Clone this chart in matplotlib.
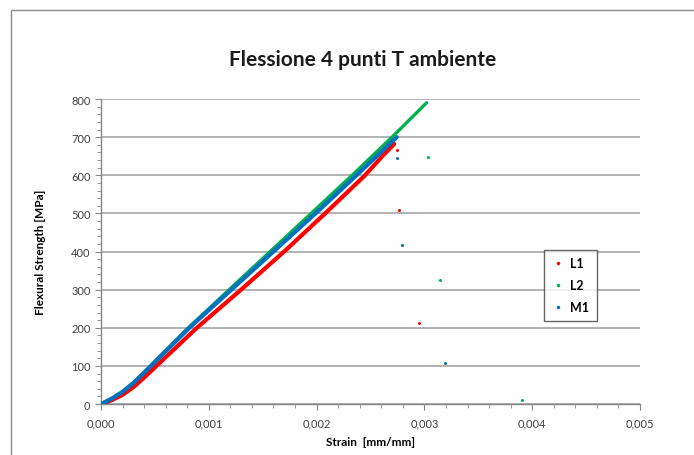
import matplotlib.pyplot as plt
from matplotlib.lines import Line2D
from matplotlib.patches import Rectangle
from matplotlib.ticker import MultipleLocator, FuncFormatter

# curve points (strain [mm/mm], stress [MPa])
l1_strain = [0, 0.0001, 0.0002, 0.0003, 0.0004, 0.0005, 0.00089, 0.00130, 0.00170, 0.00208, 0.00245, 0.00261, 0.00272]
l1_stress = [0, 10, 24, 44, 69, 96, 200, 300, 400, 500, 600, 650, 682]
l2_strain = [0, 0.0001, 0.0002, 0.0003, 0.0004, 0.00081, 0.00119, 0.00157, 0.00195, 0.00233, 0.00270, 0.00302]
l2_stress = [0, 14, 32, 55, 83, 200, 300, 400, 500, 600, 700, 790]
m1_strain = [0, 0.0001, 0.0002, 0.0003, 0.0004, 0.00082, 0.00121, 0.00160, 0.00199, 0.00237, 0.002744]
m1_stress = [0, 14, 32, 55, 82, 200, 300, 400, 500, 600, 700]

# isolated points after failure
l1_drop_strain = [0.002743, 0.002761, 0.002947]
l1_drop_stress = [667, 509, 212]
l2_drop_strain = [0.003036, 0.003142, 0.003908]
l2_drop_stress = [647, 324, 10]
m1_drop_strain = [0.002749, 0.002792, 0.003188]
m1_drop_stress = [646, 417, 107]

labels = ['L1', 'L2', 'M1']
colors = ['#FF0000', '#00B050', '#0070C0']

plt.rcParams['font.family'] = ['Lato', 'DejaVu Sans']

fig = plt.figure(figsize=(6.94, 4.56), dpi=100)
ax = fig.add_axes([0.1455, 0.1118, 0.7767, 0.6689])

series = [
    (l1_strain, l1_stress, l1_drop_strain, l1_drop_stress, 3.0),
    (l2_strain, l2_stress, l2_drop_strain, l2_drop_stress, 2.4),
    (m1_strain, m1_stress, m1_drop_strain, m1_drop_stress, 3.0),
]
for (xs, ys, dx, dy, lw), c in zip(series, colors):
    ax.plot(xs, ys, color=c, lw=lw, solid_capstyle='round', solid_joinstyle='round', zorder=3)
    ax.plot(dx, dy, 'o', color=c, ms=2.2, mec='none', zorder=3)

ax.set_xlim(0, 0.005)
ax.set_ylim(0, 800)
ax.xaxis.set_major_locator(MultipleLocator(0.001))
ax.xaxis.set_minor_locator(MultipleLocator(0.0002))
ax.yaxis.set_major_locator(MultipleLocator(100))
ax.yaxis.set_minor_locator(MultipleLocator(20))
ax.xaxis.set_major_formatter(FuncFormatter(lambda v, p: f'{v:.3f}'.replace('.', ',')))

ax.grid(axis='y', color='#A6A6A6', lw=1.2, zorder=0)
for s in ['top', 'right']:
    ax.spines[s].set_visible(False)
for s in ['left', 'bottom']:
    ax.spines[s].set_color('#868686')
    ax.spines[s].set_linewidth(1.0)
ax.tick_params(which='both', colors='#868686', labelcolor='#404040', labelsize=8)
ax.tick_params(which='major', length=4)
ax.tick_params(which='minor', length=3)
ax.tick_params(axis='x', pad=6)

ax.set_xlabel('Strain  [mm/mm]', fontsize=8.5, fontweight='bold', labelpad=5)
ax.set_ylabel('Flexural Strength [MPa]', fontsize=8.5, fontweight='bold', labelpad=18)
fig.text(0.523, 0.868, 'Flessione 4 punti T ambiente', ha='center', va='center',
         fontsize=15, fontweight='bold', color='#1a1a1a')

handles = [Line2D([], [], ls='none', marker='o', ms=2.5, color=c, mec='none') for c in colors]
leg = ax.legend(handles, labels, loc='upper left', bbox_to_anchor=(544 / 694, 1 - 251 / 456),
                bbox_transform=fig.transFigure, frameon=True, fancybox=False,
                prop={'weight': 'bold', 'size': 9}, handlelength=1.0, handletextpad=0.5,
                labelspacing=0.8, borderpad=0.6, borderaxespad=0)
leg.get_frame().set_edgecolor('#404040')
leg.get_frame().set_linewidth(1.0)

fig.patches.append(Rectangle((11 / 694, -0.01), 1.0, 1 - 11 / 456 + 0.01, transform=fig.transFigure,
                             fill=False, edgecolor='#8c8c8c', lw=1.0))

fig.savefig('out.png', dpi=100)
